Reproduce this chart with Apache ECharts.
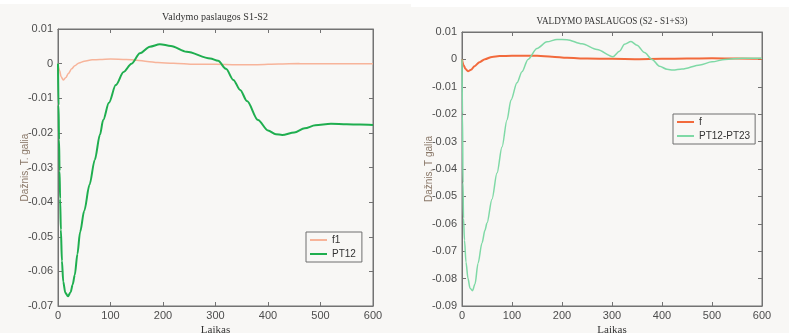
<!DOCTYPE html>
<html>
<head>
<meta charset="utf-8">
<script src="https://cdn.jsdelivr.net/npm/echarts@6/dist/echarts.min.js"></script>
<style>
  html, body { margin: 0; padding: 0; background: #f8f7f5; }
  #chart { width: 789px; height: 333px; }
</style>
</head>
<body>
<div id="chart"></div>
<script>
// Left panel: "Valdymo paslaugos S1-S2"
const leftF1Time = [0, 3, 6, 10, 15, 20, 26, 32, 40, 50, 65, 80, 100, 130, 150, 170, 190, 220, 260, 300, 340, 380, 420, 460, 500, 550, 600];
const leftF1Vals = [0, -0.002, -0.0038, -0.0047, -0.004, -0.0028, -0.0015, -0.0006, 0.0002, 0.0007, 0.0011, 0.0012, 0.0013, 0.0012, 0.001, 0.0006, 0.0003, 0.0001, -0.0002, -0.0002, -0.0003, -0.0003, -0.0001, 0, 0, 0, 0];

const leftPT12Time = [0, 1, 2, 3, 4, 5.5, 7.5, 10, 14, 19, 24, 28, 32, 37, 42, 50, 60, 70, 80, 86, 97, 110, 125, 140, 156, 175, 194, 215, 245, 290, 305, 320, 334, 347, 360, 381, 400, 415, 427, 450, 470, 490, 520, 550, 575, 600];
const leftPT12Vals = [0, -0.012, -0.022, -0.031, -0.039, -0.048, -0.057, -0.063, -0.0662, -0.0672, -0.066, -0.0638, -0.061, -0.055, -0.0487, -0.0425, -0.035, -0.0278, -0.0205, -0.0163, -0.0113, -0.0062, -0.0024, 0, 0.003, 0.0049, 0.0056, 0.0051, 0.0034, 0.0015, 0.0008, -0.0015, -0.0047, -0.0076, -0.0108, -0.0163, -0.0193, -0.0204, -0.0206, -0.0199, -0.0187, -0.0178, -0.0174, -0.0175, -0.0176, -0.0177];

// Right panel: "VALDYMO PASLAUGOS (S2 - S1+S3)"
const rightFTime = [0, 3, 7, 12, 18, 25, 35, 46, 60, 75, 100, 150, 180, 210, 250, 300, 350, 400, 450, 500, 550, 600];
const rightFVals = [0, -0.002, -0.0035, -0.0043, -0.0038, -0.0025, -0.001, 0.0001, 0.0009, 0.0012, 0.0013, 0.0013, 0.001, 0.0006, 0.0003, 0.0002, 0.0001, 0.0002, 0.0003, 0.0004, 0.0003, 0.0002];

const rightPTTime = [0, 1, 2, 3, 5, 8, 12, 16, 21, 26, 32, 40, 46, 50, 60, 70, 80, 90, 98, 110, 120, 132, 150, 170, 190, 210, 240, 270, 302, 315, 325, 338, 350, 365, 380, 395, 410, 422, 440, 476, 500, 526, 560, 600];
const rightPTVals = [0, -0.02, -0.045, -0.058, -0.066, -0.074, -0.080, -0.0835, -0.0844, -0.082, -0.0745, -0.067, -0.0623, -0.0597, -0.051, -0.0415, -0.032, -0.0221, -0.0148, -0.0085, -0.0045, 0, 0.004, 0.0064, 0.0073, 0.0072, 0.0057, 0.0036, 0.001, 0.003, 0.0055, 0.0065, 0.0052, 0.0025, 0, -0.0025, -0.0036, -0.0039, -0.0035, -0.002, -0.0009, 0, 0.0004, 0.0004];

const xTicks = { min: 0, max: 600, interval: 100 };
const leftY = { min: -0.07, max: 0.01, interval: 0.01 };
const rightY = { min: -0.09, max: 0.01, interval: 0.01 };

const pair = (ts, vs) => ts.map((t, i) => [t, vs[i]]);

const sans = 'Liberation Sans, Arial, sans-serif';
const serif = 'Liberation Serif, Times New Roman, serif';
const frame = '#737373';
const labelColor = '#4d4d4d';

function fmtY(v) {
  const r = Math.round(v * 100) / 100;
  if (r === 0) return '0';
  return r.toFixed(2);
}

function xAxes(gridIndex) {
  return [
    {
      type: 'value', gridIndex, position: 'bottom', ...xTicks,
      name: 'Laikas', nameLocation: 'middle', nameGap: 19, nameMoveOverlap: false,
      nameTextStyle: { fontFamily: serif, fontSize: 11, color: '#333' },
      axisLine: { show: true, onZero: false, lineStyle: { color: frame, width: 1 } },
      axisTick: { show: true, inside: true, length: 4, lineStyle: { color: frame } },
      axisLabel: { fontFamily: sans, fontSize: 11, color: labelColor, margin: 4 },
      splitLine: { show: false }
    },
    {
      type: 'value', gridIndex, position: 'top', ...xTicks,
      axisLine: { show: true, onZero: false, lineStyle: { color: frame, width: 1 } },
      axisTick: { show: true, inside: true, length: 4, lineStyle: { color: frame } },
      axisLabel: { show: false },
      splitLine: { show: false }
    }
  ];
}

function yAxes(gridIndex, range, name, gap) {
  return [
    {
      type: 'value', gridIndex, position: 'left', ...range,
      name, nameLocation: 'middle', nameGap: gap, nameMoveOverlap: false,
      nameTextStyle: { fontFamily: sans, fontSize: 10, color: '#8a7868' },
      axisLine: { show: true, onZero: false, lineStyle: { color: frame, width: 1 } },
      axisTick: { show: true, inside: true, length: 4, lineStyle: { color: frame } },
      axisLabel: { fontFamily: sans, fontSize: 11, color: labelColor, margin: 5, formatter: fmtY },
      splitLine: { show: false }
    },
    {
      type: 'value', gridIndex, position: 'right', ...range,
      axisLine: { show: true, onZero: false, lineStyle: { color: frame, width: 1 } },
      axisTick: { show: true, inside: true, length: 4, lineStyle: { color: frame } },
      axisLabel: { show: false },
      splitLine: { show: false }
    }
  ];
}

function line(name, xi, yi, data, color, width) {
  return {
    name, type: 'line', xAxisIndex: xi, yAxisIndex: yi, data,
    showSymbol: false, smooth: 0.3, smoothMonotone: 'x',
    lineStyle: { color, width }, itemStyle: { color },
    z: 3
  };
}

const chart = echarts.init(document.getElementById('chart'), null, { renderer: 'canvas' });

chart.setOption({
  backgroundColor: '#f8f7f5',
  animation: false,
  graphic: [
    { type: 'rect', shape: { x: 0, y: 0, width: 789, height: 4 }, style: { fill: '#ffffff' }, z: -1 },
    { type: 'rect', shape: { x: 411, y: 0, width: 378, height: 7 }, style: { fill: '#ffffff' }, z: -1 },
    { type: 'text', x: 215, y: 17, scaleX: 0.96, style: { text: 'Valdymo paslaugos S1-S2', font: '10.5px ' + serif, fill: '#333', textAlign: 'center', textVerticalAlign: 'middle' } },
    { type: 'text', x: 612, y: 21, scaleX: 0.87, style: { text: 'VALDYMO PASLAUGOS (S2 - S1+S3)', font: '10.5px ' + serif, fill: '#333', textAlign: 'center', textVerticalAlign: 'middle' } }
  ],
  grid: [
    { left: 58, right: 416, top: 29, bottom: 27, containLabel: false, outerBoundsMode: 'none', show: true, borderColor: frame, borderWidth: 1, backgroundColor: 'transparent' },
    { left: 462, right: 27, top: 32, bottom: 27, containLabel: false, outerBoundsMode: 'none', show: true, borderColor: frame, borderWidth: 1, backgroundColor: 'transparent' }
  ],
  xAxis: [...xAxes(0), ...xAxes(1)],
  yAxis: [...yAxes(0, leftY, 'Dažnis, T. galia', 28), ...yAxes(1, rightY, 'Dažnis, T galia', 28)],
  legend: [
    {
      data: ['f1', 'PT12'], orient: 'vertical', left: 306, top: 232,
      icon: 'rect', itemWidth: 17, itemHeight: 2, itemGap: 4,
      padding: [3, 6, 3, 4], borderColor: '#6e6e6e', borderWidth: 1, borderRadius: 0,
      backgroundColor: '#f8f7f5',
      textStyle: { fontFamily: sans, fontSize: 10, color: '#333' }
    },
    {
      data: ['f', 'PT12-PT23'], orient: 'vertical', left: 673, top: 114,
      icon: 'rect', itemWidth: 17, itemHeight: 2, itemGap: 4,
      padding: [3, 5, 3, 4], borderColor: '#6e6e6e', borderWidth: 1, borderRadius: 0,
      backgroundColor: '#f8f7f5',
      textStyle: { fontFamily: sans, fontSize: 10, color: '#333' }
    }
  ],
  series: [
    line('f1', 0, 0, pair(leftF1Time, leftF1Vals), '#f7b49a', 1.5),
    line('PT12', 0, 0, pair(leftPT12Time, leftPT12Vals), '#1fae4f', 2),
    line('f', 2, 2, pair(rightFTime, rightFVals), '#f26a3c', 2),
    line('PT12-PT23', 2, 2, pair(rightPTTime, rightPTVals), '#7fd9a6', 1.5)
  ]
});
</script>
</body>
</html>
